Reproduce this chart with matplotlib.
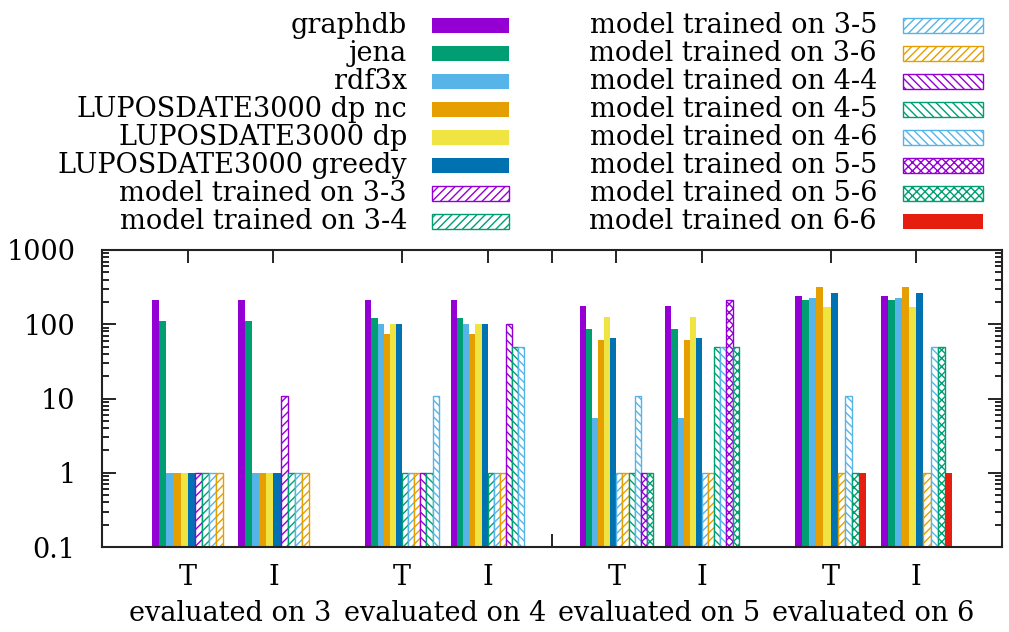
import numpy as np
import matplotlib
matplotlib.use('Agg')
import matplotlib.pyplot as plt
from matplotlib.patches import Rectangle
from matplotlib.ticker import LogLocator, NullFormatter, FixedLocator

plt.rcParams['font.family'] = ['DejaVu Serif']
plt.rcParams['hatch.linewidth'] = 1.0

# cluster labels, 8 clusters (T / I for evaluated on 3..6)
clusters = ["T", "I", "T", "I", "T", "I", "T", "I"]
group_titles = ["evaluated on 3", "evaluated on 4", "evaluated on 5", "evaluated on 6"]

series_names = [
    "graphdb", "jena", "rdf3x", "LUPOSDATE3000 dp nc", "LUPOSDATE3000 dp",
    "LUPOSDATE3000 greedy",
    "model trained on 3-3", "model trained on 3-4", "model trained on 3-5",
    "model trained on 3-6", "model trained on 4-4", "model trained on 4-5",
    "model trained on 4-6", "model trained on 5-5", "model trained on 5-6",
    "model trained on 6-6",
]
N = None
graphdb = [210, 210, 210, 210, 176, 176, 243, 243]
jena = [111, 111, 120, 120, 86, 86, 212, 212]
rdf3x = [1, 1, 100, 100, 5.5, 5.5, 226, 226]
dp_nc = [1, 1, 73, 73, 61, 61, 318, 318]
dp = [1, 1, 100, 100, 126, 126, 172, 172]
greedy = [1, 1, 100, 100, 65, 65, 264, 264]
m33 = [1, 10.9, N, N, N, N, N, N]
m34 = [1, 1, 1, 1, N, N, N, N]
m35 = [1, 1, 1, 1, 1, 1, N, N]
m36 = [1, 1, 1, 1, 1, 1, 1, 1]
m44 = [N, N, 1, 100, N, N, N, N]
m45 = [N, N, 1, 50, 1, 50, N, N]
m46 = [N, N, 10.9, 50, 10.9, 50, 10.9, 50]
m55 = [N, N, N, N, 1, 210, N, N]
m56 = [N, N, N, N, 1, 50, 1, 50]
m66 = [N, N, N, N, N, N, 1, 1]
values = [graphdb, jena, rdf3x, dp_nc, dp, greedy,
          m33, m34, m35, m36, m44, m45, m46, m55, m56, m66]

purple, green, lblue = '#9400D3', '#009E73', '#56B4E9'
orange, yellow, dblue, red = '#E69F00', '#F0E442', '#0072B2', '#E51E10'
colors = [purple, green, lblue, orange, yellow, dblue,
          purple, green, lblue, orange, purple, green, lblue, purple, green, red]
hatches = [None] * 6 + ['////'] * 4 + ['\\\\\\\\'] * 3 + ['xxxx'] * 2 + [None]

xpos = [0, 1, 2.5, 3.5, 5, 6, 7.5, 8.5]
ymin = 0.1
FS = 19.5

fig = plt.figure(figsize=(10.09, 6.32), dpi=100)
ax = fig.add_axes([102 / 1009, 1 - 547 / 632, 900 / 1009, 297 / 632])
ax.set_yscale('log')

for c, xc in enumerate(xpos):
    present = [s for s in range(len(values)) if values[s][c] is not None]
    n = len(present)
    w = 1.0 / (n + 2)
    for i, s in enumerate(present):
        x = xc + (i - (n - 1) / 2) * w
        v = values[s][c]
        if hatches[s] is None:
            ax.bar(x, v - ymin, bottom=ymin, width=w, color=colors[s],
                   linewidth=0)
        else:
            ax.bar(x, v - ymin, bottom=ymin, width=w, facecolor='white',
                   edgecolor=colors[s], hatch=hatches[s], linewidth=1.0)

ax.set_xlim(-1, 9.5)
ax.set_ylim(0.1, 1000)
ax.set_xticks(xpos)
ax.set_xticklabels(clusters, fontsize=FS)
ax.xaxis.set_minor_locator(FixedLocator([4.25]))
ax.tick_params(axis='x', which='major', direction='in', length=9.5, width=1.2,
               bottom=False, top=True, pad=12)
ax.tick_params(axis='x', which='minor', direction='in', length=9.5, width=1.2,
               bottom=True, top=True)
ax.set_yticks([0.1, 1, 10, 100, 1000])
ax.set_yticklabels(["0.1", "1", "10", "100", "1000"], fontsize=FS)
ax.yaxis.set_minor_locator(LogLocator(base=10, subs=np.arange(2, 10)))
ax.yaxis.set_minor_formatter(NullFormatter())
ax.tick_params(axis='y', which='major', direction='in', length=10, width=1.2,
               left=True, right=True, pad=19)
ax.tick_params(axis='y', which='minor', direction='in', length=5, width=1.2,
               left=True, right=True)
for sp in ax.spines.values():
    sp.set_linewidth(1.5)
    sp.set_color('#222222')

for g, title in enumerate(group_titles):
    xc = (xpos[2 * g] + xpos[2 * g + 1]) / 2
    ax.text(xc, -0.223, title, transform=ax.get_xaxis_transform(),
            ha='center', va='center', fontsize=FS)

# key, two columns
lax = fig.add_axes([0, 0, 1, 1])
lax.set_xlim(0, 1009)
lax.set_ylim(632, 0)
lax.axis('off')
for s, name in enumerate(series_names):
    col, row = divmod(s, 8)
    yc = 25.7 + row * 28.0
    tx = 407 if col == 0 else 877
    bx0, bx1 = (432, 509) if col == 0 else (903, 983)
    lax.text(tx, yc, name, ha='right', va='center', fontsize=FS)
    if hatches[s] is None:
        r = Rectangle((bx0, yc - 7.5), bx1 - bx0, 15, facecolor=colors[s],
                      linewidth=0)
    else:
        r = Rectangle((bx0, yc - 7.5), bx1 - bx0, 15, facecolor='white',
                      edgecolor=colors[s], hatch=hatches[s], linewidth=1.0)
    lax.add_patch(r)

fig.savefig("out.png", dpi=100)
